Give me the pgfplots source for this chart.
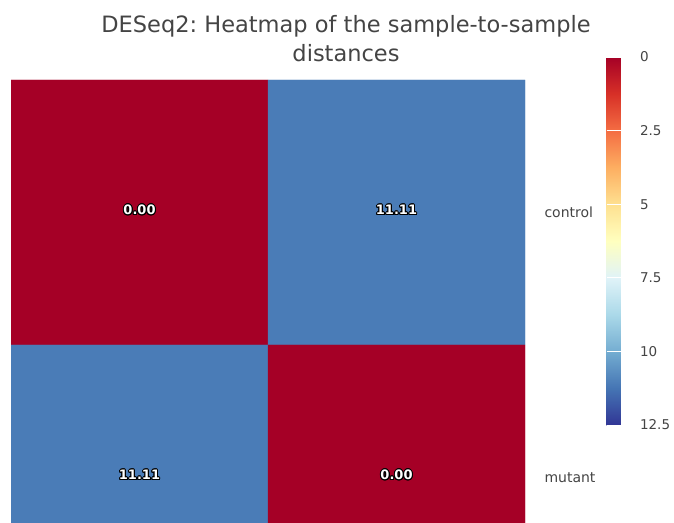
\documentclass[border=0pt]{standalone}
\usepackage{fontspec}
\setmainfont{DejaVu Sans}
\usepackage{pgfplots}
\pgfplotsset{compat=1.18}
\usepackage{contour}
\contourlength{1pt}
\frenchspacing

\definecolor{txtgray}{HTML}{444444}

% reversed RdYlBu: 0 -> dark red, 12.5 -> dark blue
\pgfplotsset{colormap={rdylbu}{
  rgb255=(165,0,38) rgb255=(215,48,39) rgb255=(244,109,67)
  rgb255=(253,174,97) rgb255=(254,224,144) rgb255=(255,255,191)
  rgb255=(224,243,248) rgb255=(171,217,233) rgb255=(116,173,209)
  rgb255=(69,117,180) rgb255=(49,54,149)}}

% rows: control at y=1 (top), mutant at y=0 (bottom)
\pgfplotstableread{
x y z
0 1 0
1 1 11.11
0 0 11.11
1 0 0
}\distances

\pgfplotstableread{
x y lab
0 1 0.00
1 1 11.11
0 0 11.11
1 0 0.00
}\cellvalues

\begin{document}
\begin{tikzpicture}
\path[use as bounding box] (-11pt,0pt) rectangle (663pt,522pt);

\node[font=\fontsize{22.5}{27}\selectfont, text=txtgray, anchor=base, inner sep=0pt]
  at (335pt,489pt) {DESeq2: Heatmap of the sample-to-sample};
\node[font=\fontsize{22.5}{27}\selectfont, text=txtgray, anchor=base, inner sep=0pt]
  at (335pt,460pt) {distances};

\begin{axis}[
  scale only axis, width=514pt, height=442pt,
  xmin=-0.5, xmax=1.5, ymin=-0.168, ymax=1.5,
  axis line style={draw=none},
  xtick=\empty,
  ytick={0,1}, yticklabels={mutant,control},
  yticklabel pos=right, major tick length=0pt,
  yticklabel style={font=\fontsize{14}{16}\selectfont, text=txtgray,
    anchor=west, xshift=16pt},
  colormap name=rdylbu,
  point meta min=0, point meta max=12.5,
  colorbar,
  colorbar style={
    at={(parent axis.north east)}, anchor=north west,
    xshift=73pt, yshift=23pt,
    scale only axis, width=17pt, height=368pt,
    y dir=reverse,
    axis line style={draw=none},
    ytick={0,2.5,5,7.5,10,12.5},
    yticklabel pos=right,
    tick align=inside, major tick length=17pt,
    major tick style={white, line width=0.8pt},
    yticklabel style={font=\fontsize{13.5}{16}\selectfont, text=txtgray,
      anchor=west, xshift=13pt},
    /pgf/number format/assume math mode=true,
  },
]
\addplot[matrix plot*, mesh/cols=2, point meta=explicit]
  table[meta=z] {\distances};
\addplot[draw=none, mark=none, point meta=explicit symbolic,
  nodes near coords={\contour{black}{\textcolor{white}{\pgfplotspointmeta}}},
  nodes near coords align=center,
  every node near coord/.append style={font=\bfseries\fontsize{13}{15}\selectfont,
    yshift=2pt}]
  table[meta=lab] {\cellvalues};
\end{axis}
\end{tikzpicture}
\end{document}
